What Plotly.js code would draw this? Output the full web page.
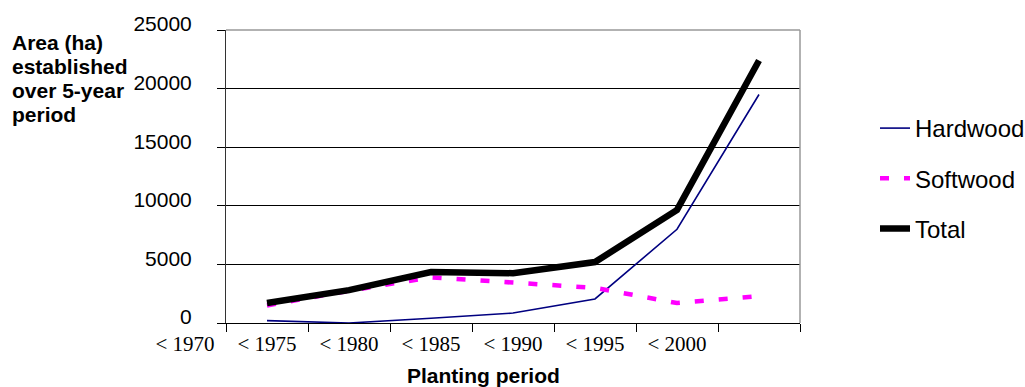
<!DOCTYPE html>
<html>
<head>
<meta charset="utf-8">
<script src="https://cdn.plot.ly/plotly-3.0.1.min.js"></script>
<style>
html,body{margin:0;padding:0;background:#fff;}
#chart{width:1025px;height:387px;}
</style>
</head>
<body>
<div id="chart"></div>
<script>
// Data
const positions = [1, 2, 3, 4, 5, 6, 7];
const hardwood = [200, 0, 400, 850, 2050, 8000, 19500];
const softwood = [1500, 2750, 3900, 3450, 3000, 1700, 2300];
const total = [1700, 2800, 4350, 4250, 5200, 9650, 22400];
const tickLabels = ['< 1970', '< 1975', '< 1980', '< 1985', '< 1990', '< 1995', '< 2000', ''];
const tickPositions = [0.5, 1.5, 2.5, 3.5, 4.5, 5.5, 6.5, 7.5];
const seriesNames = ['Hardwood', 'Softwood', 'Total'];
const yTitleLines = ['Area (ha)', 'established', 'over 5-year', 'period'];
const xTitle = 'Planting period';

const sans = '"Liberation Sans", Arial, sans-serif';
const serif = '"Liberation Serif", "Times New Roman", serif';

const traces = [
  {x: positions, y: hardwood, name: seriesNames[0], type: 'scatter', mode: 'lines',
   line: {color: '#000080', width: 1.6}, cliponaxis: false, legendgroup: 'a', hoverinfo: 'skip'},
  {x: positions, y: softwood, name: seriesNames[1], type: 'scatter', mode: 'lines',
   line: {color: '#ff00ff', width: 4.5, dash: '9px,15px'}, cliponaxis: false, legendgroup: 'b', hoverinfo: 'skip'},
  {x: positions, y: total, name: seriesNames[2], type: 'scatter', mode: 'lines',
   line: {color: '#000000', width: 6.5}, cliponaxis: false, legendgroup: 'c', hoverinfo: 'skip'}
];

const yLinePix = [42, 66, 90, 114];
const annotations = yTitleLines.map((t, i) => ({
  text: '<b>' + t + '</b>', xref: 'paper', yref: 'paper',
  x: (10 - 226) / 574, y: (323 - yLinePix[i]) / 293,
  xanchor: 'left', yanchor: 'middle', showarrow: false,
  font: {family: sans, size: 21, color: '#000'}
}));
annotations.push({
  text: '<b>' + xTitle + '</b>', xref: 'paper', yref: 'paper',
  x: (483 - 226) / 574, y: (323 - 375) / 293,
  xanchor: 'center', yanchor: 'middle', showarrow: false,
  font: {family: sans, size: 21, color: '#000'}
});

const layout = {
  width: 1025, height: 387,
  margin: {l: 226, r: 225, t: 30, b: 64, autoexpand: false},
  paper_bgcolor: '#fff', plot_bgcolor: '#fff',
  showlegend: true,
  legend: {
    x: (875 - 226) / 574, y: (323 - 106) / 293, xanchor: 'left', yanchor: 'top',
    font: {family: sans, size: 24, color: '#000'},
    tracegroupgap: 16, bgcolor: 'rgba(0,0,0,0)', borderwidth: 0
  },
  xaxis: {
    range: [0.5, 7.5], tickmode: 'array', tickvals: tickPositions, ticktext: tickLabels,
    ticks: 'outside', ticklen: 8, tickcolor: '#000', tickwidth: 1,
    ticklabelshift: -41, ticklabelstandoff: -6,
    showline: true, linecolor: '#000', linewidth: 1,
    showgrid: false, zeroline: false, automargin: false,
    tickfont: {family: serif, size: 21, color: '#000'}
  },
  yaxis: {
    range: [0, 25000], tickmode: 'linear', tick0: 0, dtick: 5000, tickformat: 'd',
    ticks: 'outside', ticklen: 8, tickcolor: '#000', tickwidth: 1,
    ticklabelstandoff: 21, ticklabelshift: -6,
    showline: true, linecolor: '#333', linewidth: 1,
    showgrid: true, gridcolor: '#000', gridwidth: 1, zeroline: false, automargin: false,
    tickfont: {family: sans, size: 21, color: '#000'}
  },
  shapes: [
    {type: 'line', xref: 'paper', yref: 'paper', x0: 0, x1: 1, y0: 1, y1: 1,
     line: {color: '#999', width: 1.5}, layer: 'above'},
    {type: 'line', xref: 'paper', yref: 'paper', x0: 1, x1: 1, y0: 0, y1: 1,
     line: {color: '#999', width: 1.5}, layer: 'above'}
  ],
  annotations: annotations
};

Plotly.newPlot('chart', traces, layout, {staticPlot: true, displayModeBar: false});
</script>
</body>
</html>
